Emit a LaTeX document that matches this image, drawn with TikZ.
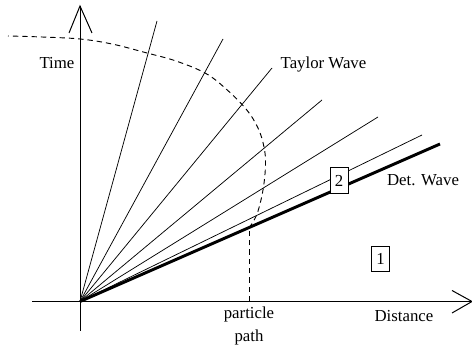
\documentclass[tikz,border=0pt]{standalone}
\usepackage{fontspec}
\setmainfont{Liberation Serif}
\begin{document}
\begin{tikzpicture}[x=0.75pt,y=-0.75pt,
  ray/.style={line width=0.55pt},
  axisline/.style={line width=0.75pt},
  detline/.style={line width=2.2pt},
  ppath/.style={line width=0.7pt, dash pattern=on 4pt off 3pt},
  lbl/.style={font=\fontsize{12.6}{15}\selectfont, inner sep=0pt},
  regbox/.style={draw, fill=white, line width=0.55pt, inner sep=0pt,
    minimum width=13.5pt, minimum height=19pt, font=\fontsize{12.6}{15}\selectfont}
]
\useasboundingbox (0,0) rectangle (472,348);
% axes
\coordinate (O) at (80,301.5);
\coordinate (ybot) at (80,331);
\coordinate (ytip) at (80,6);
\coordinate (yl) at (69,33);
\coordinate (yr) at (92,33);
\coordinate (xleft) at (32,301.5);
\coordinate (xtip) at (472,301.5);
\coordinate (xu) at (452,290.5);
\coordinate (xd) at (452,313);
\draw[axisline] (ybot) -- (ytip);
\draw[axisline] (yl) -- (ytip) -- (yr);
\draw[axisline] (xleft) -- (xtip);
\draw[axisline] (xu) -- (xtip) -- (xd);
% rays (Taylor wave)
\coordinate (r1) at (157,21);
\coordinate (r2) at (223,39);
\coordinate (r3) at (272,68);
\coordinate (r4) at (322,100);
\coordinate (r5) at (378,117);
\coordinate (r6) at (422,135);
\coordinate (det) at (440,144);
\foreach \r in {r1,r2,r3,r4,r5,r6} \draw[ray] (O) -- (\r);
\draw[detline] (O) -- (det);
% particle path
\coordinate (pbot) at (249,301.5);
\coordinate (pkink) at (249,228);
\draw[ppath] (pbot) -- (pkink);
\draw[ppath] plot[smooth, tension=0.6] coordinates {(pkink) (257,214) (263,190) (265.5,165) (264,147) (258,128) (246,109) (225,88) (205,73) (176,61) (147,53) (112,44) (80,39) (42,37) (8,36)};
% boxes
\node[regbox] (b2) at (339,180.5) {2};
\node[regbox] (b1) at (380.5,259) {1};
% labels
\node[lbl] (time) at (57,63) {Time};
\node[lbl] (taylor) at (323.5,64) {Taylor Wave};
\node[lbl] (detw) at (423,180) {Det. Wave};
\node[lbl] (dist) at (404,316) {Distance};
\node[lbl, align=center] (part) at (249,326) {particle\\[2pt]path};
\end{tikzpicture}
\end{document}
